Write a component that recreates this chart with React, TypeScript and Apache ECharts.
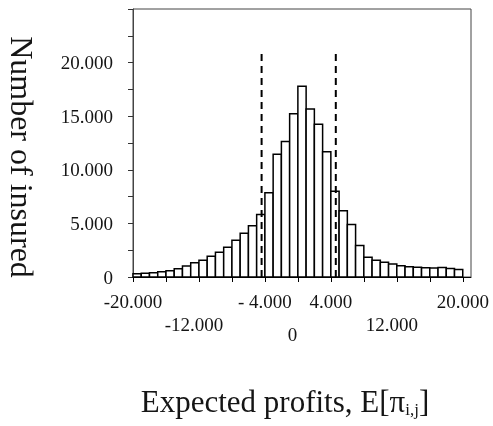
import React, { useEffect, useRef } from 'react';
import * as echarts from 'echarts';

const binWidth = 1000;
const binStarts = [
  -20000, -19000, -18000, -17000, -16000, -15000, -14000, -13000, -12000, -11000,
  -10000, -9000, -8000, -7000, -6000, -5000, -4000, -3000, -2000, -1000,
  0, 1000, 2000, 3000, 4000, 5000, 6000, 7000, 8000, 9000,
  10000, 11000, 12000, 13000, 14000, 15000, 16000, 17000, 18000, 19000,
];
const counts = [
  310, 340, 400, 500, 590, 780, 1030, 1340, 1560, 1930,
  2300, 2770, 3430, 4080, 4770, 5830, 7850, 11440, 12650, 15240,
  17800, 15680, 14240, 11680, 8000, 6170, 4900, 2930, 1840, 1560,
  1370, 1215, 1060, 960, 900, 860, 850, 890, 790, 690,
];
const cutoffs = [-4400, 4600];
const cutoffTop = 20800;

const xTickValues = [-20000, -16000, -12000, -8000, -4000, 0, 4000, 8000, 12000, 16000, 20000];
const xLabelValues = [-20000, -12000, -4000, 0, 4000, 12000, 20000];
const xLabelTexts = ['-20.000', '-12.000', '- 4.000', '0', '4.000', '12.000', '20.000'];
const xLabelRows = [0, 1, 0, 2, 0, 1, 0];
const yLabelValues = [0, 5000, 10000, 15000, 20000];
const yLabelTexts = ['0', '5.000', '10.000', '15.000', '20.000'];

const yTitle = 'Number of insured';
const xTitleMain = 'Expected profits, ';
const xTitleSym = 'E[π';
const xTitleSub = 'i,j';
const xTitleEnd = ']';

const FONT = '"Liberation Serif", "Times New Roman", serif';
const TXT = '#151515';

export default function App() {
  const ref = useRef<HTMLDivElement>(null);
  useEffect(() => {
    if (!ref.current) return;
    const chart = echarts.init(ref.current, undefined, { renderer: 'svg' });
    const tickFont = { fontFamily: FONT, fontSize: 19, color: TXT };
    chart.setOption({
      animation: false,
      grid: {
        left: 133, right: 22, top: 9, bottom: 149,
        show: true, borderColor: '#444', borderWidth: 1,
        outerBoundsMode: 'none',
      },
      xAxis: {
        type: 'value', min: -20000, max: 21000, interval: 4000,
        axisLine: { show: true, onZero: false, lineStyle: { color: '#000', width: 1 } },
        axisTick: { show: true, length: 5, inside: false, customValues: xTickValues, lineStyle: { color: '#000' } },
        splitLine: { show: false },
        axisLabel: {
          customValues: xLabelValues,
          hideOverlap: false,
          margin: 15,
          ...tickFont,
          formatter: (v: number) => {
            const i = xLabelValues.indexOf(v);
            if (i < 0) return '';
            return `{r${xLabelRows[i]}|${xLabelTexts[i]}}`;
          },
          rich: {
            r0: { ...tickFont, padding: [0, 0, 0, 0] },
            r1: { ...tickFont, padding: [23, 10, 0, 0] },
            r2: { ...tickFont, padding: [33, 11, 0, 0] },
          },
        },
      },
      yAxis: {
        type: 'value', min: 0, max: 25000, interval: 2500,
        axisLine: { show: true, onZero: false, lineStyle: { color: '#444', width: 1 } },
        axisTick: { show: true, length: 5, inside: false, lineStyle: { color: '#333' } },
        splitLine: { show: false },
        axisLabel: {
          customValues: yLabelValues,
          hideOverlap: false,
          margin: 20,
          ...tickFont,
          verticalAlign: 'middle',
          padding: [12, 0, 0, 0],
          formatter: (v: number) => {
            const i = yLabelValues.indexOf(v);
            return i < 0 ? '' : yLabelTexts[i];
          },
        },
      },
      series: [
        {
          type: 'custom',
          data: binStarts.map((s, i) => [s, s + binWidth, counts[i]]),
          encode: { x: [0, 1], y: 2 },
          renderItem: (params: any, api: any) => {
            const p0 = api.coord([api.value(0), api.value(2)]);
            const p1 = api.coord([api.value(1), 0]);
            return {
              type: 'rect',
              shape: { x: p0[0], y: p0[1], width: p1[0] - p0[0], height: p1[1] - p0[1] },
              style: { fill: '#fff', stroke: '#000', lineWidth: 1.5 },
            };
          },
          z: 2,
        },
        ...cutoffs.map((c) => ({
          type: 'line',
          data: [[c, 0], [c, cutoffTop]],
          showSymbol: false,
          symbol: 'none',
          lineStyle: { color: '#000', width: 2, type: [7, 5] },
          z: 3,
        })),
      ],
      graphic: [
        {
          type: 'text',
          x: 22, y: 157,
          rotation: -Math.PI / 2,
          style: {
            text: yTitle, fontFamily: FONT, fontSize: 32, fill: TXT,
            align: 'center', verticalAlign: 'middle',
          },
        },
        {
          type: 'text',
          x: 285, y: 401,
          style: {
            text: `{a|${xTitleMain}}{a|${xTitleSym}}{s|${xTitleSub}}{a|${xTitleEnd}}`,
            fontFamily: FONT, fontSize: 31, fill: TXT,
            align: 'center', verticalAlign: 'middle',
            rich: {
              a: { fontFamily: FONT, fontSize: 31, lineHeight: 34, fill: TXT },
              s: { fontFamily: FONT, fontSize: 17, lineHeight: 17, fill: TXT, verticalAlign: 'bottom' },
            },
          },
        },
      ],
    });
    return () => chart.dispose();
  }, []);
  return <div ref={ref} style={{ position: 'fixed', left: 0, top: 0, width: 493, height: 426 }} />;
}
